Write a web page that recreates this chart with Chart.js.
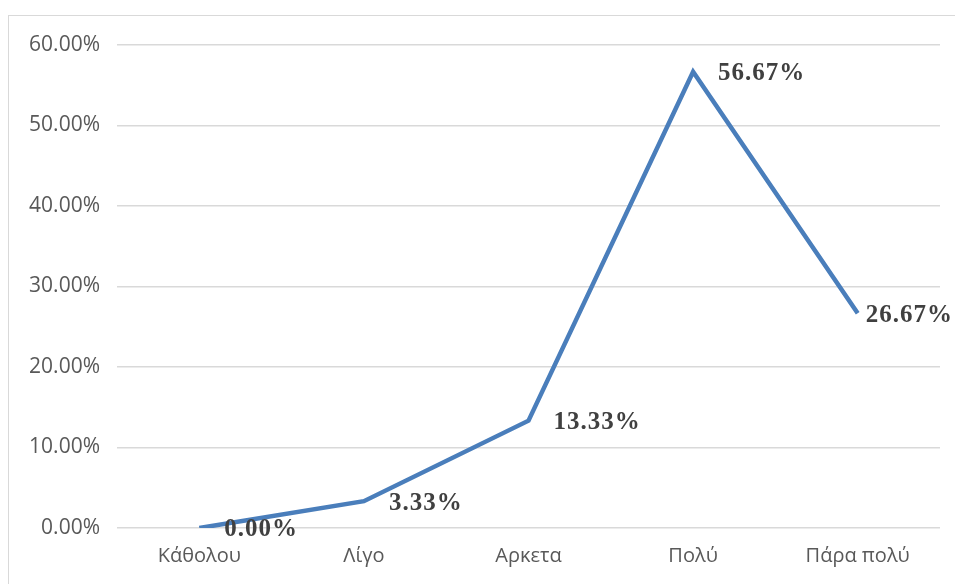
<!DOCTYPE html>
<html>
<head>
<meta charset="utf-8">
<script src="https://cdn.jsdelivr.net/npm/chart.js@4"></script>
<style>
  html, body { margin: 0; padding: 0; background: #fff; }
  #wrap { position: relative; width: 955px; height: 584px; overflow: hidden; }
  #frame { position: absolute; left: 8px; top: 15px; width: 1000px; height: 700px; border: 1px solid #d9d9d9; box-sizing: border-box; }
  canvas { position: absolute; left: 0; top: 0; }
</style>
</head>
<body>
<div id="wrap">
  <div id="frame"></div>
  <canvas id="chart" width="955" height="584"></canvas>
</div>
<script>
const categories = ['Κάθολου', 'Λίγο', 'Αρκετα', 'Πολύ', 'Πάρα πολύ'];
const values = [0, 3.33, 13.33, 56.67, 26.67];
const yTicks = [0, 10, 20, 30, 40, 50, 60];

// etiketler noktanın sağında, kenara taşarsa içeri kaydır
const valueLabels = {
  id: 'valueLabels',
  afterDatasetsDraw(chart) {
    const ctx = chart.ctx;
    const meta = chart.getDatasetMeta(0);
    ctx.save();
    ctx.font = 'bold 25px "Liberation Serif", "Times New Roman", serif';
    ctx.fillStyle = '#404040';
    ctx.textAlign = 'left';
    ctx.textBaseline = 'middle';
    if ('letterSpacing' in ctx) ctx.letterSpacing = '1px';
    meta.data.forEach(function(pt, i) {
      const txt = values[i].toFixed(2) + '%';
      const w = ctx.measureText(txt).width;
      const x = Math.min(pt.x + 25, chart.width - w - 2);
      ctx.fillText(txt, x, pt.y + 2);
    });
    ctx.restore();
  }
};

new Chart(document.getElementById('chart'), {
  type: 'line',
  data: {
    labels: categories,
    datasets: [{
      data: values,
      borderColor: '#4a7ebb',
      borderWidth: 4.5,
      pointRadius: 0,
      tension: 0,
      fill: false
    }]
  },
  options: {
    responsive: false,
    animation: false,
    layout: { padding: { top: 45, right: 15, left: 0, bottom: 0 } },
    plugins: { legend: { display: false }, tooltip: { enabled: false } },
    scales: {
      x: {
        offset: true,
        grid: { display: false, drawTicks: false },
        border: { display: false },
        ticks: { color: '#595959', padding: 16, maxRotation: 0, font: { family: '"Open Sans", sans-serif', size: 20 } },
        afterFit: function(s) { s.height = 56; }
      },
      y: {
        min: 0,
        max: 60,
        afterBuildTicks: function(s) { s.ticks = yTicks.map(v => ({ value: v })); },
        grid: { color: '#d9d9d9', lineWidth: 1.5, drawTicks: false },
        border: { display: false },
        ticks: {
          color: '#595959',
          padding: 17,
          font: { family: '"Open Sans", sans-serif', size: 21 },
          callback: function(v) { return v.toFixed(2) + '%'; }
        },
        afterFit: function(s) { s.width = 117; }
      }
    }
  },
  plugins: [valueLabels]
});
</script>
</body>
</html>
